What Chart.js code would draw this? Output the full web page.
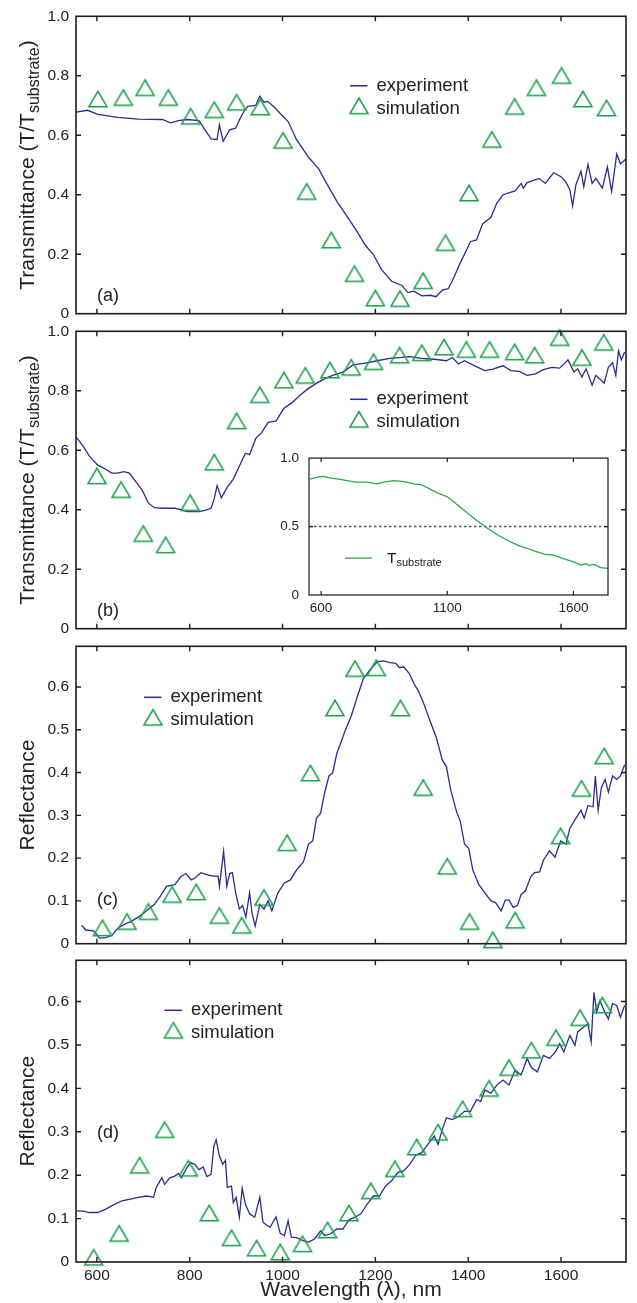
<!DOCTYPE html>
<html><head><meta charset="utf-8">
<script src="https://cdn.jsdelivr.net/npm/chart.js@4.4.1/dist/chart.umd.min.js"></script>
<style>
html,body{margin:0;padding:0;background:#fff;overflow:hidden;width:637px;height:1303px;}
canvas{position:absolute;left:0;}
</style></head><body>
<canvas id="cA" width="637" height="330" style="top:0px"></canvas>
<canvas id="cB" width="637" height="330" style="top:315px"></canvas>
<canvas id="cC" width="637" height="330" style="top:630px"></canvas>
<canvas id="cD" width="637" height="359" style="top:944px"></canvas>
<canvas id="cI" width="370" height="185" style="top:440px;left:250px"></canvas>
<script>
// ---------- data ----------
const xRange = [555, 1740];
const xTickVals = [600, 800, 1000, 1200, 1400, 1600];
const xTickLabels = ['600', '800', '1000', '1200', '1400', '1600'];
const transTicks = [0, 0.2, 0.4, 0.6, 0.8, 1.0];
const transTickLabels = ['0', '0.2', '0.4', '0.6', '0.8', '1.0'];
const reflTicks = [0, 0.1, 0.2, 0.3, 0.4, 0.5, 0.6];
const reflTickLabels = ['0', '0.1', '0.2', '0.3', '0.4', '0.5', '0.6'];
const transRange = [0, 1.0];
const reflRange = [0, 0.695];
const seriesNames = ['experiment', 'simulation'];
const panelLabels = ['(a)', '(b)', '(c)', '(d)'];
const xTitle = 'Wavelength (\u03bb), nm';

// panel (a)
const aExpX = [555,580,602,645,689,741,759,776,794,820,833,846,859,864,872,886,899,907,916,925,942,951,960,968,982,995,1012,1030,1056,1078,1091,1117,1143,1161,1178,1196,1213,1235,1257,1270,1283,1300,1318,1331,1344,1357,1366,1383,1405,1418,1431,1449,1462,1475,1501,1514,1519,1527,1553,1566,1584,1601,1610,1619,1625,1632,1643,1649,1658,1667,1675,1689,1700,1709,1720,1728,1740];
const aExpY = [0.678,0.684,0.670,0.660,0.654,0.653,0.642,0.649,0.653,0.649,0.618,0.588,0.586,0.635,0.580,0.618,0.624,0.651,0.678,0.697,0.700,0.731,0.711,0.714,0.695,0.673,0.646,0.586,0.526,0.487,0.449,0.378,0.318,0.275,0.231,0.198,0.149,0.109,0.095,0.071,0.076,0.060,0.062,0.057,0.079,0.084,0.111,0.171,0.242,0.248,0.302,0.324,0.373,0.400,0.413,0.438,0.422,0.441,0.455,0.438,0.474,0.460,0.444,0.417,0.362,0.433,0.479,0.427,0.502,0.438,0.455,0.422,0.493,0.411,0.537,0.504,0.520];
const aSimX = [602,657,704,754,802,853,901,952,1001,1052,1105,1155,1200,1253,1303,1351,1402,1451,1500,1547,1601,1647,1698];
const aSimY = [0.722,0.727,0.760,0.727,0.664,0.686,0.711,0.695,0.583,0.411,0.248,0.135,0.053,0.051,0.111,0.239,0.406,0.586,0.697,0.760,0.801,0.722,0.692];

// panel (b)
const bExpX = [556,571,584,602,619,632,645,658,670,685,698,711,724,741,768,781,794,820,833,846,853,859,868,881,894,907,920,929,942,955,969,986,1003,1021,1038,1056,1073,1091,1108,1130,1152,1178,1204,1231,1257,1274,1300,1327,1353,1366,1379,1392,1414,1436,1453,1475,1492,1510,1527,1545,1562,1580,1597,1615,1628,1636,1645,1654,1667,1675,1684,1693,1702,1711,1718,1724,1730,1737];
const bExpY = [0.643,0.612,0.580,0.550,0.536,0.523,0.523,0.528,0.523,0.492,0.465,0.422,0.407,0.405,0.405,0.400,0.394,0.394,0.398,0.405,0.438,0.481,0.440,0.476,0.503,0.547,0.590,0.585,0.639,0.659,0.694,0.699,0.741,0.761,0.786,0.808,0.825,0.841,0.852,0.863,0.887,0.893,0.901,0.909,0.912,0.915,0.909,0.906,0.901,0.912,0.890,0.901,0.884,0.868,0.873,0.884,0.868,0.865,0.852,0.857,0.871,0.879,0.876,0.904,0.863,0.874,0.846,0.874,0.819,0.852,0.839,0.825,0.879,0.895,0.852,0.934,0.904,0.930];
const bSimX = [600,652,700,748,801,853,901,951,1003,1049,1102,1148,1196,1252,1300,1348,1396,1446,1500,1543,1597,1645,1692];
const bSimY = [0.514,0.468,0.320,0.282,0.424,0.560,0.699,0.787,0.836,0.852,0.870,0.879,0.898,0.920,0.928,0.947,0.939,0.939,0.931,0.920,0.979,0.912,0.963];

// inset of (b): substrate transmittance
const insetXRange = [552, 1737];
const insetXTicks = [600, 1100, 1600];
const insetXTickLabels = ['600', '1100', '1600'];
const insetYTicks = [0, 0.5, 1.0];
const insetYTickLabels = ['0', '0.5', '1.0'];
const insetX = [555,597,617,637,670,703,736,783,822,849,888,928,968,994,1021,1060,1100,1140,1179,1219,1259,1298,1338,1378,1417,1444,1484,1523,1563,1603,1629,1649,1662,1682,1708,1737];
const insetY = [0.847,0.864,0.864,0.854,0.847,0.835,0.824,0.824,0.812,0.824,0.835,0.828,0.812,0.807,0.784,0.746,0.718,0.659,0.600,0.541,0.487,0.440,0.400,0.365,0.341,0.322,0.299,0.289,0.264,0.240,0.219,0.228,0.216,0.224,0.200,0.195];
const insetRefX = [552, 1737];
const insetRefY = [0.5, 0.5];

// panel (c)
const cExpX = [567,576,593,606,619,632,645,659,672,689,707,724,737,750,768,781,792,803,811,824,838,851,861,864,873,880,886,892,899,907,914,921,929,934,941,951,960,969,977,990,1004,1017,1030,1045,1056,1065,1073,1082,1091,1100,1108,1117,1126,1135,1148,1161,1174,1187,1204,1218,1231,1244,1252,1261,1274,1283,1292,1300,1309,1318,1331,1344,1353,1362,1375,1383,1392,1401,1410,1423,1436,1449,1459,1471,1480,1488,1497,1506,1514,1523,1535,1543,1554,1562,1575,1587,1599,1611,1619,1632,1643,1650,1658,1669,1674,1680,1687,1695,1702,1711,1720,1728,1737];
const cExpY = [0.043,0.032,0.030,0.013,0.014,0.019,0.036,0.045,0.051,0.062,0.077,0.092,0.111,0.134,0.138,0.157,0.164,0.149,0.153,0.166,0.161,0.158,0.158,0.134,0.215,0.134,0.164,0.166,0.119,0.081,0.089,0.062,0.119,0.073,0.041,0.092,0.081,0.100,0.077,0.119,0.142,0.149,0.172,0.191,0.233,0.240,0.293,0.305,0.354,0.392,0.399,0.445,0.471,0.498,0.532,0.577,0.619,0.638,0.659,0.661,0.657,0.655,0.645,0.647,0.630,0.608,0.592,0.573,0.547,0.520,0.483,0.430,0.414,0.361,0.308,0.286,0.233,0.223,0.172,0.138,0.119,0.100,0.096,0.077,0.102,0.102,0.085,0.089,0.115,0.123,0.157,0.166,0.168,0.195,0.217,0.202,0.240,0.233,0.270,0.293,0.312,0.293,0.323,0.320,0.392,0.312,0.365,0.384,0.354,0.392,0.384,0.392,0.418];
const cSimX = [612,665,711,762,814,864,912,960,1010,1060,1113,1156,1202,1254,1303,1355,1403,1453,1501,1599,1644,1693];
const cSimY = [0.037,0.052,0.075,0.115,0.121,0.066,0.043,0.108,0.236,0.399,0.551,0.643,0.645,0.551,0.365,0.181,0.052,0.009,0.055,0.252,0.363,0.439];

// panel (d)
const dExpX = [556,571,584,602,619,637,654,672,689,707,722,728,740,746,757,768,776,782,794,802,811,820,829,837,846,852,857,864,871,877,881,890,894,900,907,913,920,929,940,951,958,973,986,995,1004,1012,1019,1030,1043,1056,1069,1082,1091,1104,1117,1130,1143,1156,1169,1182,1196,1209,1222,1235,1248,1261,1274,1287,1300,1313,1327,1335,1344,1353,1366,1379,1392,1405,1418,1427,1436,1449,1462,1475,1488,1501,1514,1527,1536,1549,1562,1575,1588,1597,1606,1619,1630,1636,1648,1658,1665,1671,1677,1684,1693,1702,1711,1720,1728,1737];
const dExpY = [0.118,0.117,0.114,0.114,0.122,0.132,0.141,0.145,0.149,0.152,0.149,0.172,0.194,0.179,0.194,0.198,0.204,0.194,0.217,0.229,0.225,0.213,0.219,0.197,0.202,0.267,0.282,0.244,0.225,0.234,0.172,0.175,0.137,0.149,0.103,0.170,0.133,0.111,0.103,0.149,0.091,0.080,0.104,0.066,0.061,0.095,0.057,0.056,0.050,0.046,0.053,0.072,0.061,0.065,0.076,0.076,0.097,0.103,0.111,0.133,0.152,0.152,0.175,0.187,0.206,0.210,0.225,0.246,0.252,0.271,0.290,0.271,0.305,0.332,0.328,0.335,0.347,0.347,0.374,0.370,0.396,0.389,0.408,0.419,0.408,0.442,0.431,0.469,0.448,0.438,0.476,0.469,0.484,0.503,0.484,0.522,0.499,0.530,0.541,0.549,0.507,0.621,0.576,0.602,0.579,0.560,0.595,0.591,0.564,0.591];
const dSimX = [593,648,692,746,797,842,890,944,995,1043,1097,1143,1190,1242,1289,1335,1388,1445,1488,1536,1589,1641,1689];
const dSimY = [0.011,0.066,0.223,0.305,0.216,0.113,0.056,0.032,0.023,0.042,0.074,0.113,0.164,0.215,0.265,0.299,0.353,0.400,0.448,0.488,0.517,0.563,0.592];

// ---------- style ----------
const FONT = "'Liberation Sans', Arial, Helvetica, sans-serif";
const NAVY = '#2a2d8f';
const GREEN = '#1aa04c';
const SUBGREEN = '#2aa84c';
const INK = '#222222';
const FRAME = '#1c1c1c';

function pts(xs, ys) { return xs.map((x, i) => ({ x: x, y: ys[i] })); }

function makeTriangle() {
  const c = document.createElement('canvas');
  c.width = 22; c.height = 20;
  const g = c.getContext('2d');
  g.strokeStyle = GREEN; g.lineWidth = 1.6; g.lineJoin = 'miter';
  g.beginPath(); g.moveTo(11, 2.3); g.lineTo(2, 17.7); g.lineTo(20, 17.7); g.closePath(); g.stroke();
  return c;
}
const TRI = makeTriangle();

const decorPlugin = {
  id: 'decor',
  afterDraw(chart, args, o) {
    const ctx = chart.ctx, a = chart.chartArea;
    const xs = chart.scales.x, ys = chart.scales.y;
    ctx.save();
    // frame
    ctx.strokeStyle = FRAME; ctx.lineWidth = o.frameWidth;
    ctx.strokeRect(a.left, a.top, a.right - a.left, a.bottom - a.top);
    // inward ticks on all sides
    ctx.lineWidth = o.tickWidth;
    ctx.beginPath();
    o.xTicks.forEach(v => {
      const p = xs.getPixelForValue(v);
      ctx.moveTo(p, a.top); ctx.lineTo(p, a.top + o.tickLen);
      ctx.moveTo(p, a.bottom); ctx.lineTo(p, a.bottom - o.tickLen);
    });
    o.yTicks.forEach(v => {
      if (v <= ys.min || v >= ys.max) return;
      const p = ys.getPixelForValue(v);
      ctx.moveTo(a.left, p); ctx.lineTo(a.left + o.tickLen, p);
      ctx.moveTo(a.right, p); ctx.lineTo(a.right - o.tickLen, p);
    });
    ctx.stroke();
    ctx.fillStyle = INK; ctx.textAlign = 'left'; ctx.textBaseline = 'alphabetic';
    // legend
    if (o.legend) {
      const L = o.legend, b = a.top + L.base, ds = chart.data.datasets;
      ctx.strokeStyle = NAVY; ctx.lineWidth = 1.5;
      ctx.beginPath(); ctx.moveTo(L.x, b - 5); ctx.lineTo(L.x + 17.5, b - 5); ctx.stroke();
      ctx.drawImage(TRI, L.x + 9 - TRI.width / 2, b + 15 - TRI.height / 2);
      ctx.font = L.size + 'px ' + FONT;
      ctx.fillText(ds[1].label, L.x + 26.5, b);
      ctx.fillText(ds[0].label, L.x + 26.5, b + 23);
    }
    // panel label
    if (o.panel) {
      ctx.font = '18px ' + FONT;
      ctx.fillText(o.panel.text, a.left + 21, a.top + o.panel.base);
    }
    // rotated y title
    if (o.yTitle) {
      const T = o.yTitle, cy = (a.top + a.bottom) / 2;
      ctx.save();
      ctx.translate(T.x, cy); ctx.rotate(-Math.PI / 2);
      let total = 0;
      const w = T.parts.map(p => { ctx.font = p.size + 'px ' + FONT; const m = ctx.measureText(p.t).width; total += m; return m; });
      let x = -total / 2;
      T.parts.forEach((p, i) => { ctx.font = p.size + 'px ' + FONT; ctx.fillText(p.t, x, p.dy || 0); x += w[i]; });
      ctx.restore();
    }
    // inset legend
    if (o.insetLegend) {
      const L = o.insetLegend;
      ctx.strokeStyle = SUBGREEN; ctx.lineWidth = 1.3;
      ctx.beginPath(); ctx.moveTo(a.left + L.x1, a.top + L.y); ctx.lineTo(a.left + L.x2, a.top + L.y); ctx.stroke();
      ctx.font = '15.5px ' + FONT;
      ctx.fillText(L.main, a.left + L.tx, a.top + L.base);
      const mw = ctx.measureText(L.main).width;
      ctx.font = '11px ' + FONT;
      ctx.fillText(L.sub, a.left + L.tx + mw, a.top + L.base + 2.5);
    }
    ctx.restore();
  }
};

function yScale(range, ticks, labels, opts) {
  return {
    type: 'linear', position: 'left', min: range[0], max: range[1],
    grid: { display: false, drawTicks: false }, border: { display: false },
    afterBuildTicks: s => { s.ticks = ticks.map(v => ({ value: v })); },
    afterFit: s => { s.width = opts.width; },
    ticks: { autoSkip: false, padding: opts.pad, color: INK, font: { family: FONT, size: opts.size },
      callback: (v, i) => labels[i] }
  };
}
function xScale(range, ticks, labels, show, opts) {
  const sc = {
    type: 'linear', position: 'bottom', min: range[0], max: range[1], display: show,
    grid: { display: false, drawTicks: false }, border: { display: false },
    afterBuildTicks: s => { s.ticks = ticks.map(v => ({ value: v })); },
    ticks: { autoSkip: false, maxRotation: 0, padding: opts ? opts.pad : 4, color: INK,
      font: { family: FONT, size: opts ? opts.size : 15.5 }, callback: (v, i) => labels[i] }
  };
  if (opts) {
    sc.afterFit = s => { s.height = opts.height; };
    if (opts.title) sc.title = { display: true, text: opts.title, color: INK,
      font: { family: FONT, size: 21, lineHeight: 1.2 }, padding: { top: 0, bottom: 0 } };
  }
  return sc;
}

const transTitle = [{ t: 'Transmittance (T/T', size: 21 }, { t: 'substrate', size: 16, dy: 5 }, { t: ')', size: 21 }];
const reflTitle = [{ t: 'Reflectance', size: 21 }];

function panel(id, expX, expY, simX, simY, yr, yt, ytl, legend, label, title, xOpts, pad) {
  return new Chart(document.getElementById(id), {
    type: 'scatter',
    data: { datasets: [
      { label: seriesNames[1], data: pts(simX, simY), pointStyle: TRI, pointRadius: 9, showLine: false, clip: false,
        borderColor: GREEN, backgroundColor: 'rgba(0,0,0,0)' },
      { label: seriesNames[0], data: pts(expX, expY), showLine: true, pointRadius: 0, borderColor: NAVY,
        borderWidth: 1.3, tension: 0, clip: false }
    ]},
    plugins: [decorPlugin],
    options: {
      responsive: false, animation: false, devicePixelRatio: 1,
      layout: { padding: pad },
      scales: {
        x: xScale(xRange, xTickVals, xTickLabels, !!xOpts, xOpts),
        y: yScale(yr, yt, ytl, { width: 76, pad: 7, size: 15.5 })
      },
      plugins: {
        legend: { display: false }, tooltip: { enabled: false },
        decor: { frameWidth: 1.6, tickWidth: 1.4, tickLen: 5, xTicks: xTickVals, yTicks: yt,
          legend: legend, panel: { text: label.text, base: label.base }, yTitle: { x: 34, parts: title } }
      }
    }
  });
}

panel('cA', aExpX, aExpY, aSimX, aSimY, transRange, transTicks, transTickLabels,
  { x: 350, base: 74.5, size: 18.5 }, { text: panelLabels[0], base: 285 }, transTitle, null,
  { left: 0, right: 11, top: 13, bottom: 11 });
panel('cB', bExpX, bExpY, bSimX, bSimY, transRange, transTicks, transTickLabels,
  { x: 350, base: 73, size: 18.5 }, { text: panelLabels[1], base: 285 }, transTitle, null,
  { left: 0, right: 11, top: 13, bottom: 11 });
panel('cC', cExpX, cExpY, cSimX, cSimY, reflRange, reflTicks, reflTickLabels,
  { x: 144, base: 56, size: 18.5 }, { text: panelLabels[2], base: 258.5 }, reflTitle, null,
  { left: 0, right: 11, top: 13, bottom: 11 });
panel('cD', dExpX, dExpY, dSimX, dSimY, reflRange, reflTicks, reflTickLabels,
  { x: 164.4, base: 55, size: 18.5 }, { text: panelLabels[3], base: 178 }, reflTitle,
  { height: 41, pad: 4, size: 15.5, title: xTitle },
  { left: 0, right: 11, top: 13, bottom: 0 });

// inset
new Chart(document.getElementById('cI'), {
  type: 'scatter',
  data: { datasets: [
    { label: 'Tsubstrate', data: pts(insetX, insetY), showLine: true, pointRadius: 0, borderColor: SUBGREEN, borderWidth: 1.3, tension: 0 },
    { label: 'ref', data: pts(insetRefX, insetRefY), showLine: true, pointRadius: 0, borderColor: '#555', borderWidth: 1.6, borderDash: [2.5, 2.5] }
  ]},
  plugins: [decorPlugin],
  options: {
    responsive: false, animation: false, devicePixelRatio: 1,
    layout: { padding: { left: 0, right: 12, top: 13, bottom: 0 } },
    scales: {
      x: xScale(insetXRange, insetXTicks, insetXTickLabels, true, { height: 30, pad: 5.4, size: 13.5 }),
      y: yScale([0, 1], insetYTicks, insetYTickLabels, { width: 59, pad: 10, size: 13.5 })
    },
    plugins: {
      legend: { display: false }, tooltip: { enabled: false },
      decor: { frameWidth: 1.2, tickWidth: 1.2, tickLen: 4, xTicks: insetXTicks, yTicks: insetYTicks,
        insetLegend: { x1: 36, x2: 63, y: 100, tx: 78, base: 105.3, main: 'T', sub: 'substrate' } }
    }
  }
});
</script>
</body></html>
